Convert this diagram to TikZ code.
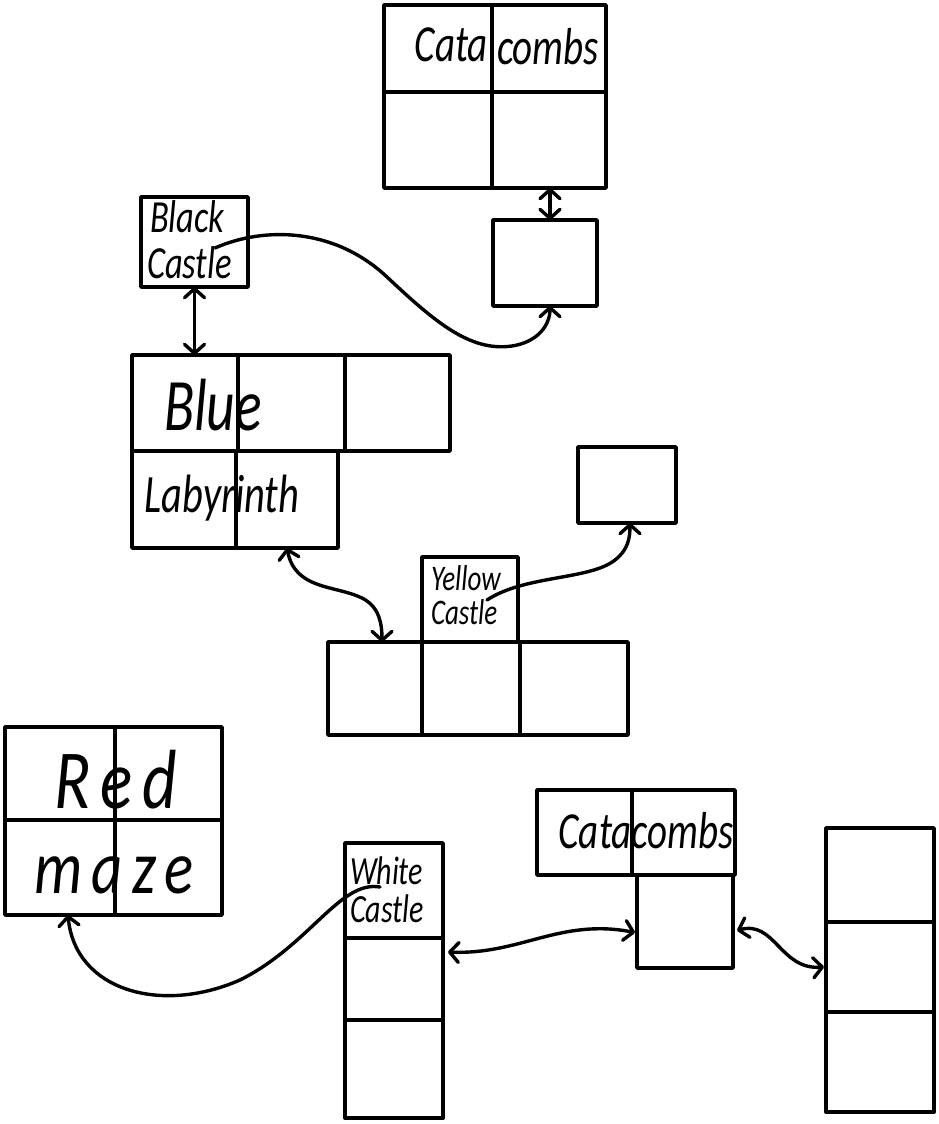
\documentclass[tikz,border=0pt]{standalone}
\usepackage{fontspec}
\setmainfont{Carlito}
\newfontfamily\hand[FakeStretch=0.75]{Carlito}
\newfontfamily\handwide[FakeStretch=0.8,LetterSpace=12]{Carlito}
\usetikzlibrary{arrows.meta,calc,fit}
\begin{document}
\begin{tikzpicture}[x=1pt,y=-1pt,
  cell/.style={draw, line width=3.8pt, inner sep=0pt, outer sep=0pt, line join=round},
  lbl/.style={inner sep=0pt, outer sep=0pt},
  link/.style={line width=3.4pt, line cap=round},
  arrowone/.style={-{Straight Barb[length=9pt,width=20pt,line width=3.4pt,round]}},
  arrowtwo/.style={{Straight Barb[length=9pt,width=20pt,line width=3.4pt,round]}-{Straight Barb[length=9pt,width=20pt,line width=3.4pt,round]}},
  hs/.style={font=\hand\itshape\fontsize{#1}{#1}\selectfont},
  hw/.style={font=\handwide\itshape\fontsize{#1}{#1}\selectfont}
]
\fill[white] (0,0) rectangle (938,1124);
\useasboundingbox (0,0) rectangle (938,1124);

% top Catacombs grid
\node[cell, fit={(384,5)(492,92)}] (tc11) {};
\node[cell, fit={(492,5)(606,92)}] (tc12) {};
\node[cell, fit={(384,92)(492,188)}] (tc21) {};
\node[cell, fit={(492,92)(606,188)}] (tc22) {};
\node[lbl, hs=52, anchor=base east] (tcl) at (488,62) {Cata};
\node[lbl, hs=52, anchor=base west] (tcr) at (497,64) {combs};
\node[cell, fit={(493,220)(597,306)}] (ts) {};

% Black Castle
\node[cell, fit={(141,197)(248,287)}] (bc) {};
\node[lbl, hs=46, anchor=base west] (bc1) at (150,232) {Black};
\node[lbl, hs=46, anchor=base west] (bc2) at (147,278) {Castle};

% Blue Labyrinth
\node[cell, fit={(132,355)(238,451)}] (bl11) {};
\node[cell, fit={(238,355)(345,451)}] (bl12) {};
\node[cell, fit={(345,355)(450,451)}] (bl13) {};
\node[cell, fit={(132,451)(236,548)}] (bl21) {};
\node[cell, fit={(236,451)(338,548)}] (bl22) {};
\node[lbl, hs=74, anchor=base] (blt1) at (213,430) {Blue};
\node[lbl, hs=54, anchor=base] (blt2) at (222,512) {Labyrinth};

% Yellow Castle and row
\node[cell, fit={(422,557)(518,642)}] (yc) {};
\node[lbl, hs=36, anchor=base west] (yc1) at (431,590) {Yellow};
\node[lbl, hs=36, anchor=base west] (yc2) at (431,624) {Castle};
\node[cell, fit={(328,642)(422,735)}] (br1) {};
\node[cell, fit={(422,642)(520,735)}] (br2) {};
\node[cell, fit={(520,642)(628,735)}] (br3) {};
\node[cell, fit={(578,447)(676,523)}] (rs) {};

% Red Maze
\node[cell, fit={(5,727)(115,820)}] (rm11) {};
\node[cell, fit={(115,727)(222,820)}] (rm12) {};
\node[cell, fit={(5,820)(115,915)}] (rm21) {};
\node[cell, fit={(115,820)(222,915)}] (rm22) {};
\node[lbl, hw=84, anchor=base] (rmt1) at (116,808) {Red};
\node[lbl, hw=76, anchor=base] (rmt2) at (114,893) {maze};

% White Castle column
\node[cell, fit={(345,843)(443,938)}] (wc1) {};
\node[cell, fit={(345,938)(443,1020)}] (wc2) {};
\node[cell, fit={(345,1020)(443,1118)}] (wc3) {};
\node[lbl, hs=40, anchor=base west] (wct1) at (350,884) {White};
\node[lbl, hs=40, anchor=base west] (wct2) at (350,922) {Castle};

% bottom Catacombs
\node[cell, fit={(537,790)(632,875)}] (cb1) {};
\node[cell, fit={(632,790)(735,875)}] (cb2) {};
\node[cell, fit={(637,875)(733,968)}] (cb3) {};
\node[lbl, hs=52, anchor=base] (cbt) at (646,848) {Catacombs};

% right column
\node[cell, fit={(826,828)(934,922)}] (rc1) {};
\node[cell, fit={(826,922)(934,1012)}] (rc2) {};
\node[cell, fit={(826,1012)(934,1112)}] (rc3) {};

% connectors
\draw[link, arrowtwo] (bc.south) -- (bc.south |- bl11.north);
\draw[link, arrowtwo] ($(ts.north |- tc22.south)+(5,0)$) -- ($(ts.north)+(5,0)$);

\coordinate (bcs) at (215,248);
\draw[link, arrowone] (bcs) .. controls (265,226) and (335,228) .. (387,277)
  .. controls (435,322) and (470,352) .. (512,346)
  .. controls (538,342) and (550,325) .. ($(ts.south)+(5,0)$);

\draw[link, arrowtwo] (bl22.south) .. controls (295,590) and (335,585) .. (362,598)
  .. controls (380,607) and (382,625) .. ($(br1.north)+(7,0)$);

\coordinate (ycs) at (487,600);
\draw[link, arrowone] (ycs) .. controls (525,575) and (590,580) .. (615,560)
  .. controls (628,550) and (630,538) .. ($(rs.south)+(3,0)$);

\coordinate (wcs) at (380,887);
\draw[link, arrowone] (wcs) .. controls (340,880) and (310,945) .. (240,980)
  .. controls (160,1015) and (75,990) .. ($(rm21.south)+(8,0)$);

\draw[link, arrowtwo] ($(wc2.north east)+(5,14)$) .. controls (520,955) and (560,918) .. ($(cb3.west)+(-2,11)$);

\draw[link, arrowtwo] ($(cb3.east)+(4,9)$) .. controls (775,920) and (780,970) .. ($(rc2.west)+(-2,0)$);
\end{tikzpicture}
\end{document}
